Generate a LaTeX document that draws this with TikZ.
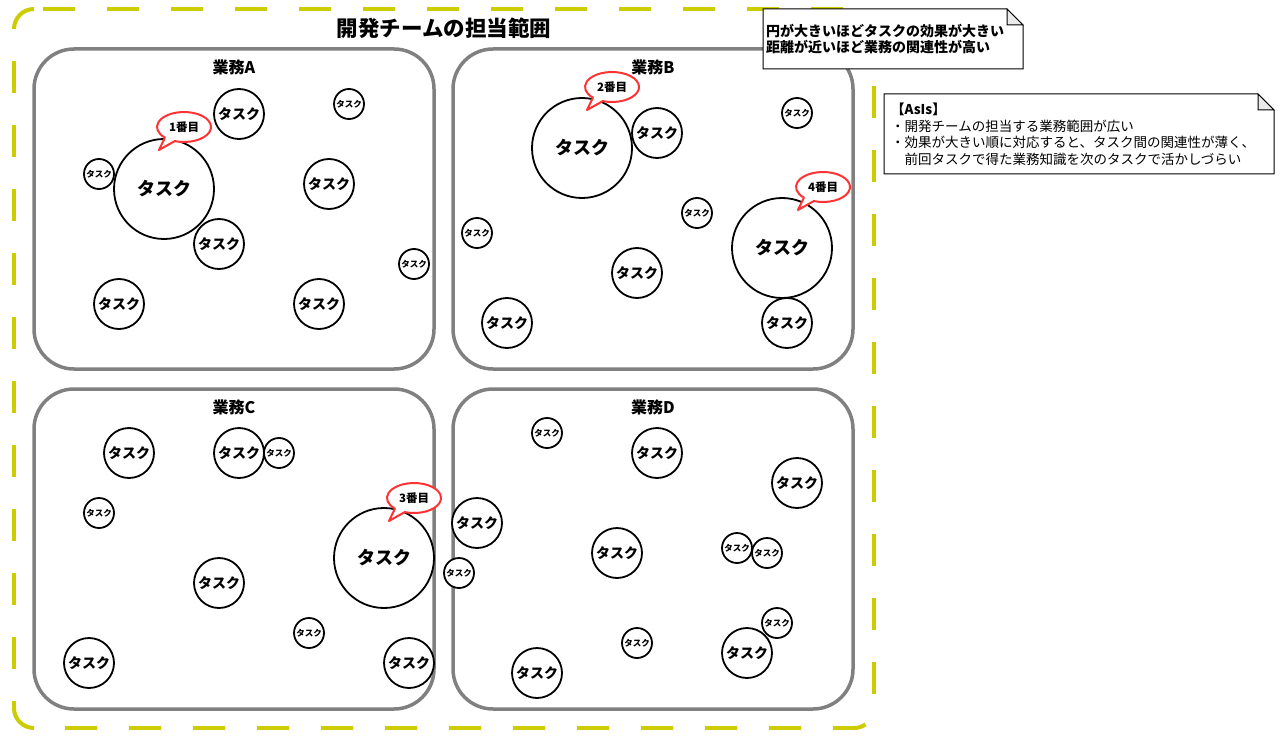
\documentclass[tikz,border=0pt]{standalone}
\usepackage{fontspec}
\setmainfont{Noto Sans CJK JP}
\usetikzlibrary{calc}
\definecolor{ylw}{RGB}{204,204,0}
\definecolor{grayb}{RGB}{128,128,128}
\definecolor{bubred}{RGB}{255,51,51}
\definecolor{foldgray}{RGB}{235,235,235}
\newcommand\mycallout[4]{%
  \draw[bubble] ($(#2,#3)+(250:27 and 15)$) arc[start angle=250,end angle=585,x radius=27,y radius=15] -- ($(#2,#3)+(-25,-23)$) -- cycle;
  \node[bubtext] (#1) at (#2,#3) {#4};}
\begin{document}
\begin{tikzpicture}[x=1pt,y=1pt,
  taskS/.style={circle,draw=black,line width=1.8pt,fill=white,minimum size=30pt,inner sep=0pt,font=\bfseries\fontsize{8.5}{9}\selectfont},
  taskM/.style={circle,draw=black,line width=1.8pt,fill=white,minimum size=50pt,inner sep=0pt,font=\bfseries\fontsize{14}{14}\selectfont},
  taskL/.style={circle,draw=black,line width=1.8pt,fill=white,minimum size=100pt,inner sep=0pt,font=\bfseries\fontsize{18}{18}\selectfont},
  area/.style={draw=grayb,line width=3.5pt,rounded corners=40pt},
  arealabel/.style={font=\bfseries\fontsize{16}{16}\selectfont,inner sep=0pt},
  ylwline/.style={draw=ylw,line width=4pt},
  ylwdash/.style={draw=ylw,line width=4pt,dash pattern=on 32pt off 32pt},
  bubble/.style={draw=bubred,line width=2pt,fill=white,line join=round},
  bubtext/.style={font=\bfseries\fontsize{11.5}{12}\selectfont,inner sep=0pt},
  note/.style={draw=black,line width=1pt,fill=white},
  fold/.style={draw=black,line width=1pt,fill=foldgray},
]
\useasboundingbox (0,0) rectangle (1287,-738);
% outer dashed frame
\coordinate (tl) at (14,-29);
\coordinate (tr) at (874,-29);
\coordinate (bl) at (14,-708);
\coordinate (br) at (874,-708);
\draw[ylwline] (tl) arc[start angle=180,end angle=90,radius=20];
\draw[ylwdash,dash phase=55pt] (34,-9) -- (854,-9);
\draw[ylwdash,dash phase=7pt] (tr) -- (br);
\draw[ylwdash,dash phase=32pt] (tl) -- (bl);
\draw[ylwline] (bl) arc[start angle=180,end angle=270,radius=20];
\draw[ylwdash,dash phase=33pt] (34,-728) -- (854,-728);
\draw[ylwline] (854,-728) arc[start angle=270,end angle=305,radius=20];
\node[font=\bfseries\fontsize{21.5}{21.5}\selectfont,inner sep=0pt] (title) at (444,-28) {開発チームの担当範囲};
% areas
\draw[area] (34,-49) rectangle (434,-369);
\draw[area] (453,-49) rectangle (853,-369);
\draw[area] (34,-389) rectangle (434,-709);
\draw[area] (453,-389) rectangle (853,-709);
\node[arealabel] (labA) at (234,-67) {業務A};
\node[arealabel] (labB) at (653,-67) {業務B};
\node[arealabel] (labC) at (234,-407) {業務C};
\node[arealabel] (labD) at (653,-407) {業務D};
% area A
\node[taskL] (a1) at (164,-189) {タスク};
\node[taskM] (a2) at (239,-114) {タスク};
\node[taskM] (a3) at (329,-184) {タスク};
\node[taskM] (a4) at (219,-244) {タスク};
\node[taskM] (a5) at (119,-304) {タスク};
\node[taskM] (a6) at (319,-304) {タスク};
\node[taskS] (a7) at (349,-104) {タスク};
\node[taskS] (a8) at (99,-174) {タスク};
\node[taskS] (a9) at (414,-264) {タスク};
% area B
\node[taskL] (b1) at (582,-148) {タスク};
\node[taskM] (b2) at (657,-133) {タスク};
\node[taskS] (b3) at (797,-113) {タスク};
\node[taskS] (b4) at (697,-213) {タスク};
\node[taskL] (b5) at (782,-248) {タスク};
\node[taskS] (b6) at (477,-233) {タスク};
\node[taskM] (b7) at (637,-273) {タスク};
\node[taskM] (b8) at (507,-323) {タスク};
\node[taskM] (b9) at (787,-323) {タスク};
% area C
\node[taskM] (c1) at (129,-453) {タスク};
\node[taskM] (c2) at (239,-453) {タスク};
\node[taskS] (c3) at (279,-453) {タスク};
\node[taskS] (c4) at (99,-513) {タスク};
\node[taskL] (c5) at (384,-558) {タスク};
\node[taskM] (c6) at (219,-583) {タスク};
\node[taskS] (c7) at (309,-633) {タスク};
\node[taskM] (c8) at (89,-663) {タスク};
\node[taskM] (c9) at (409,-663) {タスク};
% area D
\node[taskS] (d1) at (547,-433) {タスク};
\node[taskM] (d2) at (657,-453) {タスク};
\node[taskM] (d3) at (797,-483) {タスク};
\node[taskM] (d4) at (477,-523) {タスク};
\node[taskS] (d5) at (459,-573) {タスク};
\node[taskM] (d6) at (617,-553) {タスク};
\node[taskS] (d7) at (737,-548) {タスク};
\node[taskS] (d8) at (767,-553) {タスク};
\node[taskS] (d9) at (777,-623) {タスク};
\node[taskS] (d10) at (637,-643) {タスク};
\node[taskM] (d11) at (747,-653) {タスク};
\node[taskM] (d12) at (537,-673) {タスク};
% callouts
\mycallout{n1}{184}{-127}{1番目}
\mycallout{n2}{612}{-87}{2番目}
\mycallout{n4}{823}{-187}{4番目}
\mycallout{n3}{414}{-498}{3番目}
% note 1
\draw[note] (763,-9) -- (1007,-9) -- (1023,-25) -- (1023,-69) -- (763,-69) -- cycle;
\draw[fold] (1007,-9) -- (1007,-25) -- (1023,-25) -- cycle;
\node[anchor=west,align=left,inner sep=0pt,font=\bfseries\fontsize{14}{16.5}\selectfont] (legend) at (766,-39)
  {円が大きいほどタスクの効果が大きい\\距離が近いほど業務の関連性が高い};
% note 2
\draw[note] (884,-94) -- (1258,-94) -- (1274,-110) -- (1274,-174) -- (884,-174) -- cycle;
\draw[fold] (1258,-94) -- (1258,-110) -- (1274,-110) -- cycle;
\node[anchor=west,align=left,inner sep=0pt,font=\fontsize{13.5}{16.5}\selectfont] (asis) at (891,-134.5)
  {\textbf{【AsIs】}\\・開発チームの担当する業務範囲が広い\\・効果が大きい順に対応すると、タスク間の関連性が薄く、\\　前回タスクで得た業務知識を次のタスクで活かしづらい};
\end{tikzpicture}
\end{document}
